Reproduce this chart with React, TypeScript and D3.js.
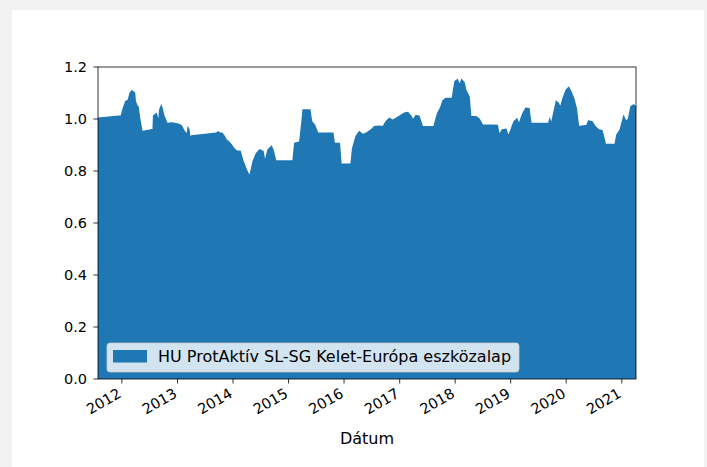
import React from "react";
import * as d3 from "d3";

const dates: string[] = [
  "2011-07-28","2011-12-28","2012-01-11","2012-01-27","2012-02-13","2012-02-24","2012-03-07","2012-03-24",
  "2012-03-29","2012-04-09","2012-04-17","2012-04-26","2012-05-12","2012-07-25","2012-07-28","2012-08-14",
  "2012-08-24","2012-08-30","2012-09-06","2012-09-16","2012-09-22","2012-10-01","2012-10-12","2012-10-23",
  "2012-11-27","2013-01-05","2013-01-25","2013-02-09","2013-03-04","2013-03-12","2013-03-16","2013-03-24",
  "2013-04-04","2013-09-12","2013-09-25","2013-10-08","2013-10-20","2013-11-03","2013-11-18","2013-12-06",
  "2013-12-21","2014-01-08","2014-01-23","2014-02-17","2014-03-08","2014-03-30","2014-04-21","2014-05-13",
  "2014-06-04","2014-06-26","2014-07-17","2014-07-29","2014-08-06","2014-08-19","2014-09-10","2014-09-21",
  "2014-10-09","2015-01-31","2015-02-11","2015-03-16","2015-03-31","2015-04-07","2015-05-21","2015-06-01",
  "2015-06-20","2015-07-12","2015-10-19","2015-10-29","2015-12-01","2015-12-12","2016-02-16","2016-02-27",
  "2016-03-20","2016-04-10","2016-05-03","2016-05-25","2016-06-27","2016-07-18","2016-08-18","2016-09-14",
  "2016-10-03","2016-10-25","2016-11-16","2016-12-08","2016-12-30","2017-02-01","2017-02-23","2017-03-17",
  "2017-03-28","2017-04-18","2017-05-08","2017-05-30","2017-08-15","2017-08-28","2017-09-10","2017-09-28",
  "2017-10-13","2017-10-31","2017-12-13","2017-12-31","2018-01-15","2018-01-30","2018-02-13","2018-02-28",
  "2018-03-11","2018-04-02","2018-04-13","2018-05-18","2018-06-07","2018-06-29","2018-10-05","2018-10-16",
  "2018-11-07","2018-12-01","2018-12-16","2019-01-03","2019-01-23","2019-02-11","2019-02-24","2019-03-18",
  "2019-04-10","2019-05-01","2019-05-05","2019-05-14","2019-09-08","2019-09-15","2019-09-26","2019-10-11",
  "2019-10-28","2019-11-11","2019-11-23","2019-12-11","2020-01-01","2020-01-17","2020-02-01","2020-02-19",
  "2020-03-07","2020-03-22","2020-05-16","2020-05-27","2020-06-18","2020-07-10","2020-08-01","2020-08-23",
  "2020-09-08","2020-09-14","2020-11-18","2020-11-29","2020-12-21","2021-01-13","2021-01-28","2021-02-14",
  "2021-03-02","2021-03-20","2021-04-04"
];

const values: number[] = [
  1.003,1.012,1.041,1.067,1.073,1.099,1.108,1.100,
  1.067,1.051,1.045,1.003,0.951,0.960,1.012,1.020,
  1.000,0.980,1.035,1.050,1.040,1.015,1.000,0.983,
  0.985,0.980,0.975,0.958,0.938,0.965,0.960,0.926,
  0.935,0.945,0.950,0.945,0.945,0.935,0.919,0.910,
  0.900,0.885,0.877,0.875,0.836,0.804,0.778,0.836,
  0.868,0.881,0.875,0.836,0.850,0.881,0.894,0.880,
  0.838,0.838,0.906,0.912,0.990,1.035,1.035,0.990,
  0.977,0.945,0.945,0.906,0.906,0.826,0.826,0.887,
  0.932,0.951,0.940,0.945,0.958,0.970,0.972,0.970,
  0.990,1.002,0.995,1.002,1.010,1.022,1.025,1.010,
  0.995,1.013,1.010,0.970,0.970,1.000,1.025,1.044,
  1.070,1.079,1.079,1.144,1.150,1.130,1.150,1.140,
  1.111,1.086,1.009,1.009,1.000,0.977,0.975,0.938,
  0.958,0.960,0.932,0.958,0.990,1.000,0.978,1.015,
  1.041,1.040,1.020,0.983,0.983,0.998,0.980,1.022,
  1.067,1.060,1.041,1.079,1.111,1.121,1.105,1.079,
  1.041,0.970,0.975,0.992,0.990,0.970,0.958,0.955,
  0.919,0.902,0.902,0.938,0.958,1.009,0.990,1.000,
  1.047,1.054,1.045
];

const yTicks: number[] = [0, 0.2, 0.4, 0.6, 0.8, 1.0, 1.2];
const xTickYears: number[] = [2012, 2013, 2014, 2015, 2016, 2017, 2018, 2019, 2020, 2021];
const seriesName = "HU ProtAktív SL-SG Kelet-Európa eszközalap";
const xLabel = "Dátum";

const W = 707, H = 467;
const L = 98, R = 636, T = 67, B = 379;
const COLOR = "#1f77b4";
const FONT = "'DejaVu Sans', sans-serif";
const FS = 15.5;

export default function App() {
  const parse = d3.utcParse("%Y-%m-%d");
  const data = dates.map((d, i) => ({ d: parse(d) as Date, v: values[i] }));
  const x = d3.scaleUtc().domain([data[0].d, data[data.length - 1].d]).range([L, R]);
  const y = d3.scaleLinear().domain([0, 1.2]).range([B, T]);
  const area = d3.area<{ d: Date; v: number }>().x(p => x(p.d)).y0(y(0)).y1(p => y(p.v));
  const line = d3.line<{ d: Date; v: number }>().x(p => x(p.d)).y(p => y(p.v));

  return (
    <svg width={W} height={H} style={{ position: "absolute", left: 0, top: 0, fontFamily: FONT }}>
      <rect x={0} y={0} width={W} height={H} fill="#f2f2f2" />
      <rect x={12} y={10} width={692} height={H - 10} fill="#ffffff" />
      <path d={area(data) || ""} fill={COLOR} />
      <path d={line(data) || ""} fill="none" stroke={COLOR} strokeWidth={1.5} />
      {yTicks.map(t => (
        <g key={t}>
          <line x1={L - 4.5} x2={L} y1={y(t)} y2={y(t)} stroke="#000" strokeWidth={0.8} />
          <text x={L - 11} y={y(t)} dy="0.36em" textAnchor="end" fontSize={FS - 1} fill="#000">{t.toFixed(1)}</text>
        </g>
      ))}
      {xTickYears.map(yr => {
        const tx = x(new Date(Date.UTC(yr, 0, 1)));
        return (
          <g key={yr}>
            <line x1={tx} x2={tx} y1={B} y2={B + 4.5} stroke="#000" strokeWidth={0.8} />
            <text transform={`translate(${tx - 5},${B + 8}) rotate(-30)`} dy="0.75em" textAnchor="end" fontSize={FS - 1} fill="#000">{yr}</text>
          </g>
        );
      })}
      <rect x={L} y={T} width={R - L} height={B - T} fill="none" stroke="#000" strokeWidth={0.8} />
      <g>
        <rect x={107} y={343} width={412} height={29} rx={3} fill="#ffffff" fillOpacity={0.8} stroke="#cccccc" strokeOpacity={0.8} />
        <rect x={113} y={350} width={34} height={12.5} fill={COLOR} />
        <text x={158} y={356.5} dy="0.36em" fontSize={FS + 0.5} fill="#000">{seriesName}</text>
      </g>
      <text x={(L + R) / 2} y={444} textAnchor="middle" fontSize={FS + 0.5} fill="#000">{xLabel}</text>
    </svg>
  );
}
